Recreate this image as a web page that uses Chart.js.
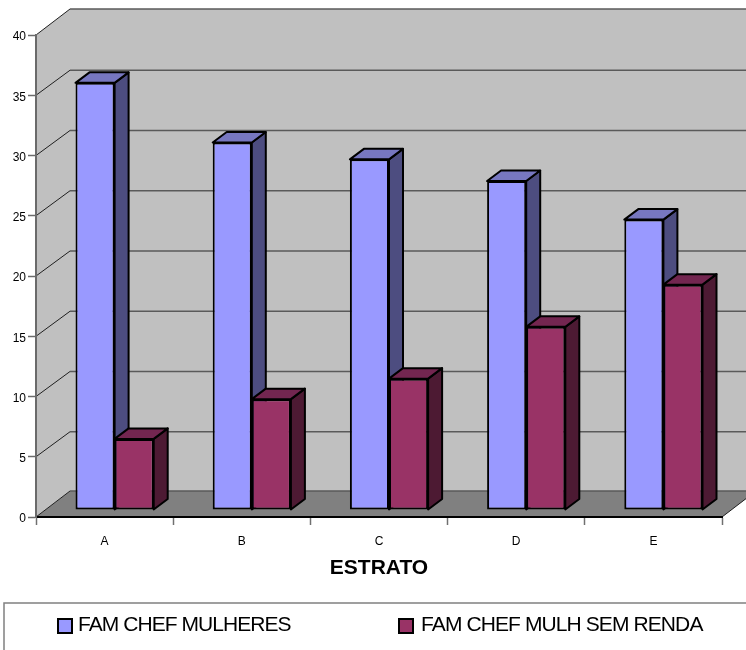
<!DOCTYPE html>
<html>
<head>
<meta charset="utf-8">
<title>Estrato</title>
<script src="https://cdn.jsdelivr.net/npm/chart.js@4"></script>
<style>
    html, body { margin: 0; padding: 0; background: #fff; overflow: hidden; }
    canvas { display: block; }
</style>
</head>
<body>
<canvas id="estratoChart" width="746" height="650"></canvas>
<script>
const categories = ["A", "B", "C", "D", "E"];
const famChefMulheres = [35.45, 30.5, 29.1, 27.3, 24.1];
const famChefMulhSemRenda = [5.9, 9.2, 10.9, 15.2, 18.7];

const seriesFaces = [
    { front: "#9999FF", top: "#7777C0", side: "#4D4D80" },
    { front: "#993366", top: "#732650", side: "#4D1A33" },
];

const FONT = "'Liberation Sans', Arial, sans-serif";

// depth of the box the bars stand in, and of the bars themselves
const WALL_DX = 34, WALL_DY = 26, GRID_DY = 25;
const INSET_DX = 10, INSET_DY = 7;
const BAR_DX = 14, BAR_DY = 10.5;

function fillPoly(ctx, points, fill, stroke, lineWidth) {
    ctx.beginPath();
    points.forEach((p, i) => (i ? ctx.lineTo(p[0], p[1]) : ctx.moveTo(p[0], p[1])));
    ctx.closePath();
    ctx.fillStyle = fill;
    ctx.fill();
    if (stroke) {
        ctx.strokeStyle = stroke;
        ctx.lineWidth = lineWidth;
        ctx.lineJoin = "round";
        ctx.stroke();
    }
}

const boxPlugin = {
    id: "box3d",
    // side wall, back wall, floor and the gridlines that run over them
    beforeDraw(chart) {
        const { ctx, chartArea: a, scales } = chart;
        const bx = a.left + WALL_DX, tx = a.right + WALL_DX;
        ctx.save();
        fillPoly(ctx, [[bx, a.top - WALL_DY], [tx, a.top - WALL_DY], [tx, a.bottom - WALL_DY], [bx, a.bottom - WALL_DY]], "#C0C0C0");
        fillPoly(ctx, [[a.left, a.top], [bx, a.top - WALL_DY], [bx, a.bottom - WALL_DY], [a.left, a.bottom]], "#C0C0C0");
        fillPoly(ctx, [[a.left, a.bottom], [bx, a.bottom - WALL_DY], [tx, a.bottom - WALL_DY], [a.right, a.bottom]], "#808080");
        scales.y.ticks.forEach((t) => {
            const y = scales.y.getPixelForValue(t.value);
            const lift = t.value === 0 || t.value === scales.y.max ? WALL_DY : GRID_DY;
            ctx.strokeStyle = "#5A5A5A";
            ctx.lineWidth = 1.5;
            ctx.beginPath();
            ctx.moveTo(bx, y - lift);
            ctx.lineTo(tx, y - lift);
            ctx.stroke();
            ctx.strokeStyle = "#202020";
            ctx.lineWidth = 1;
            ctx.beginPath();
            ctx.moveTo(a.left, y);
            ctx.lineTo(bx, y - lift);
            ctx.stroke();
        });
        ctx.strokeStyle = "#202020";
        ctx.lineWidth = 1;
        ctx.beginPath();
        ctx.moveTo(a.right, a.bottom);
        ctx.lineTo(tx, a.bottom - WALL_DY);
        ctx.stroke();
        ctx.restore();
    },
    // series are painted first to last so the later bar covers the side of the earlier one
    beforeDatasetsDraw(chart) {
        const ctx = chart.ctx;
        ctx.save();
        ctx.translate(INSET_DX, -INSET_DY);
        chart.data.datasets.forEach((ds, i) => {
            const faces = seriesFaces[i];
            chart.getDatasetMeta(i).data.forEach((bar) => {
                const left = bar.x - bar.width / 2;
                const right = bar.x + bar.width / 2;
                fillPoly(ctx, [[right, bar.y], [right + BAR_DX, bar.y - BAR_DY], [right + BAR_DX, bar.base - BAR_DY], [right, bar.base]], faces.side, "#000", 2);
                fillPoly(ctx, [[left, bar.y], [right, bar.y], [right + BAR_DX, bar.y - BAR_DY], [left + BAR_DX, bar.y - BAR_DY]], faces.top, "#000", 2);
                bar.draw(ctx);
            });
        });
        ctx.restore();
        return false;
    },
    // legend frame with tightly set labels
    afterDraw(chart) {
        const ctx = chart.ctx;
        ctx.save();
        ctx.strokeStyle = "#808080";
        ctx.lineWidth = 1.5;
        ctx.strokeRect(4, 603, 800, 100);
        const slots = [{ box: 58, text: 78, spacing: "-0.95px" }, { box: 399, text: 421, spacing: "-0.9px" }];
        chart.data.datasets.forEach((ds, i) => {
            ctx.fillStyle = ds.backgroundColor;
            ctx.strokeStyle = "#000";
            ctx.lineWidth = 2;
            ctx.fillRect(slots[i].box, 619, 14, 14);
            ctx.strokeRect(slots[i].box, 619, 14, 14);
            ctx.fillStyle = "#000";
            ctx.font = "21px " + FONT;
            ctx.letterSpacing = slots[i].spacing;
            ctx.textBaseline = "alphabetic";
            ctx.fillText(ds.label, slots[i].text, 631);
            ctx.letterSpacing = "0px";
        });
        ctx.restore();
    },
};

new Chart(document.getElementById("estratoChart"), {
    type: "bar",
    data: {
        labels: categories,
        datasets: [
            {
                label: "FAM CHEF MULHERES",
                data: famChefMulheres,
                backgroundColor: seriesFaces[0].front,
                borderColor: "#000",
                borderWidth: 2,
                borderSkipped: false,
            },
            {
                label: "FAM CHEF MULH SEM RENDA",
                data: famChefMulhSemRenda,
                backgroundColor: seriesFaces[1].front,
                borderColor: "#000",
                borderWidth: 2,
                borderSkipped: false,
            },
        ],
    },
    options: {
        responsive: false,
        animation: false,
        categoryPercentage: 0.57,
        barPercentage: 1,
        layout: { padding: { top: 35, right: 24, left: 0, bottom: 0 } },
        plugins: {
            legend: { display: false },
            tooltip: { enabled: false },
        },
        scales: {
            x: {
                afterFit: (scale) => { scale.height = 133; },
                border: { color: "#000", width: 2 },
                grid: { drawOnChartArea: false, color: "#707070", tickLength: 8, tickWidth: 1.5 },
                ticks: { color: "#000", font: { family: FONT, size: 12 }, padding: 9, maxRotation: 0 },
                title: {
                    display: true,
                    text: "ESTRATO",
                    color: "#000",
                    font: { family: FONT, size: 21, weight: "bold" },
                    padding: { top: 12, bottom: 69 },
                },
            },
            y: {
                min: 0,
                max: 40,
                afterFit: (scale) => { scale.width = 36; },
                border: { color: "#6A6A6A", width: 2 },
                grid: { drawOnChartArea: false, color: "#6A6A6A", tickLength: 8, tickWidth: 1.5 },
                ticks: { stepSize: 5, color: "#000", font: { family: FONT, size: 12 }, padding: 2, labelOffset: 2 },
            },
        },
    },
    plugins: [boxPlugin],
});
</script>
</body>
</html>
